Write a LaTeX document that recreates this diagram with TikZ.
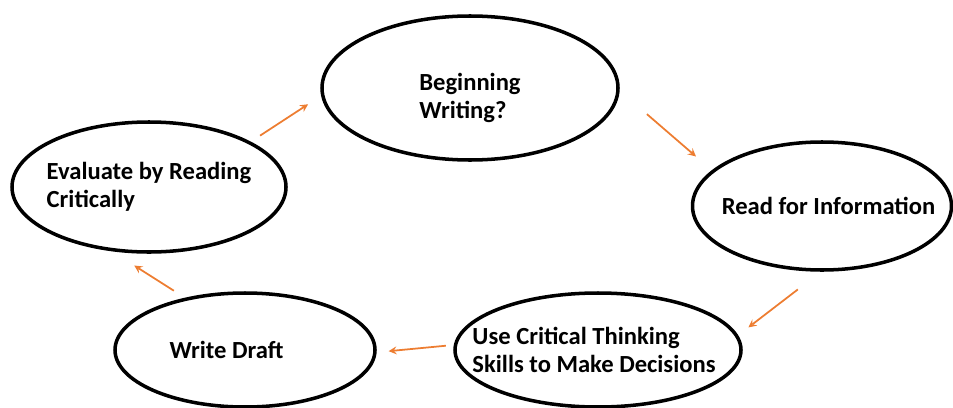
\documentclass[tikz,border=0pt]{standalone}
\usepackage{fontspec}
\setmainfont{Carlito}
\usepackage{tikz}
\usetikzlibrary{arrows,shapes,positioning}
\usepackage{xcolor}
\definecolor{cyorange}{RGB}{237,125,49}
\tikzstyle{stage} = [ellipse, draw=black, line width=2pt, inner sep=0pt, fill=white]
\tikzstyle{stagetext} = [font=\bfseries\fontsize{14}{16}\selectfont, align=left, inner sep=0pt]
\tikzstyle{arrow} = [line width=1pt,->,>=stealth,color=cyorange]

\begin{document}
\begin{tikzpicture}[node distance=1.5cm]
\useasboundingbox (0,0) rectangle (19.06,-8.14);

% Stages of the writing cycle
\node (begin) [stage, minimum width=5.92cm, minimum height=2.88cm] at (9.4,-1.76) {};
\node (read) [stage, minimum width=5.18cm, minimum height=2.56cm, right of=begin, xshift=5.54cm, yshift=-2.36cm] {};
\node (use) [stage, minimum width=5.72cm, minimum height=2.28cm, below of=read, xshift=-4.48cm, yshift=-1.38cm] {};
\node (draft) [stage, minimum width=5.2cm, minimum height=2.28cm, left of=use, xshift=-5.56cm] {};
\node (eval) [stage, minimum width=5.48cm, minimum height=2.6cm, above of=draft, xshift=-1.92cm, yshift=1.76cm] {};

% Stage texts
\node (begin-txt) [stagetext, yshift=-0.2cm] at (begin.center) {Beginning\\Writing?};
\node (read-txt) [stagetext, xshift=0.13cm] at (read.center) {Read for Information};
\node (use-txt) [stagetext, xshift=-0.08cm] at (use.center) {Use Critical Thinking\\Skills to Make Decisions};
\node (draft-txt) [stagetext, xshift=-0.37cm] at (draft.center) {Write Draft};
\node (eval-txt) [stagetext] at (eval.center) {Evaluate by Reading\\Critically};

% Arrows round the cycle
\draw [arrow, shorten <=0.22cm, shorten >=0.31cm] (eval.24) -- (begin.183);
\draw [arrow, shorten <=0.72cm, shorten >=0.42cm] (begin.359) -- (read.162);
\draw [arrow, shorten <=0.58cm, shorten >=0.26cm] (read.269) -- (use.6);
\draw [arrow, shorten <=0.16cm, shorten >=0.24cm] (use.178) -- (draft.359);
\draw [arrow, shorten <=0.26cm, shorten >=0.53cm] (draft.139) -- (eval.240);
\end{tikzpicture}
\end{document}
